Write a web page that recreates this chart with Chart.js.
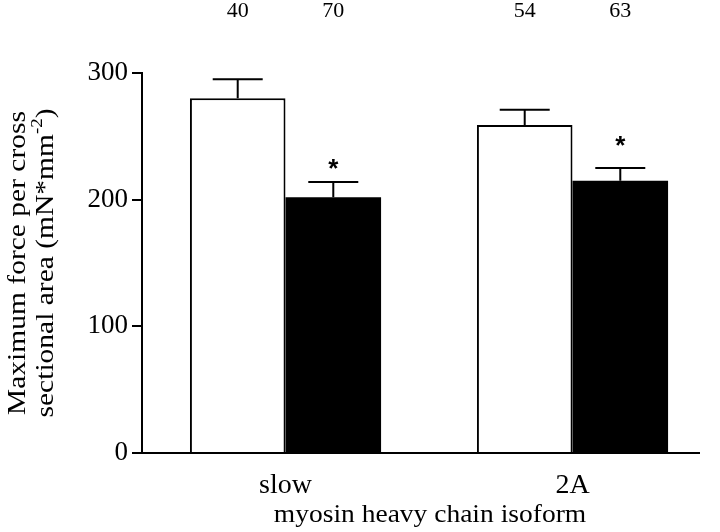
<!DOCTYPE html>
<html>
<head>
<meta charset="utf-8">
<script src="https://cdn.jsdelivr.net/npm/chart.js@4.4.1/dist/chart.umd.min.js"></script>
<style>
  html, body { margin: 0; padding: 0; background: #fff; }
  #wrap { width: 720px; height: 532px; position: relative; }
</style>
</head>
<body>
<div id="wrap"><canvas id="forceChart"></canvas></div>
<script>
// data
const categories = ['slow', '2A'];
const controlMeans = [280, 259];
const controlSem = [15, 12];
const treatedMeans = [202, 215];
const treatedSem = [12, 10];
const controlN = [40, 54];
const treatedN = [70, 63];
const treatedSig = ['*', '*'];
const yTicks = [0, 100, 200, 300];

const FONT = "'Liberation Serif', 'Times New Roman', serif";

// error bars, n labels, asterisks, axis titles
const extrasPlugin = {
  id: 'extras',
  afterDatasetsDraw(chart) {
    const ctx = chart.ctx;
    const y = chart.scales.y;
    const area = chart.chartArea;
    const sems = [controlSem, treatedSem];
    const ns = [controlN, treatedN];

    ctx.save();
    ctx.strokeStyle = '#000';
    ctx.lineWidth = 2;

    // x axis line (stops short of the right edge like the original)
    ctx.beginPath();
    ctx.moveTo(area.left - 1, area.bottom);
    ctx.lineTo(area.left + 558, area.bottom);
    ctx.stroke();

    chart.data.datasets.forEach((ds, di) => {
      const meta = chart.getDatasetMeta(di);
      meta.data.forEach((bar, i) => {
        const top = y.getPixelForValue(ds.data[i]);
        const cap = y.getPixelForValue(ds.data[i] + sems[di][i]);
        ctx.beginPath();
        ctx.moveTo(bar.x, top);
        ctx.lineTo(bar.x, cap);
        ctx.moveTo(bar.x - 25, cap);
        ctx.lineTo(bar.x + 25, cap);
        ctx.stroke();

        // n above the plot
        ctx.fillStyle = '#000';
        ctx.font = '22px ' + FONT;
        ctx.textAlign = 'center';
        ctx.textBaseline = 'middle';
        ctx.fillText(String(ns[di][i]), bar.x, 11);

        if (di === 1 && treatedSig[i]) {
          ctx.font = 'bold 26px "Liberation Sans", Arial, sans-serif';
          ctx.fillText(treatedSig[i], bar.x, cap - (i === 0 ? 12 : 21));
        }
      });
    });

    // y axis title, two lines with superscript, stretched along its length
    const cy = (area.top + area.bottom) / 2;
    ctx.save();
    ctx.translate(0, cy);
    ctx.rotate(-Math.PI / 2);
    ctx.scale(1.18, 1);
    ctx.fillStyle = '#000';
    ctx.textBaseline = 'alphabetic';
    ctx.textAlign = 'center';
    ctx.font = '25px ' + FONT;
    ctx.fillText('Maximum force per cross', 0, 25);

    const main = 'sectional area (mN*mm';
    const sup = '-2';
    const close = ')';
    ctx.font = '25px ' + FONT;
    const wMain = ctx.measureText(main).width;
    const wClose = ctx.measureText(close).width;
    ctx.font = '16px ' + FONT;
    const wSup = ctx.measureText(sup).width;
    const x0 = -(wMain + wSup + wClose) / 2;
    ctx.textAlign = 'left';
    ctx.font = '25px ' + FONT;
    ctx.fillText(main, x0, 53);
    ctx.font = '16px ' + FONT;
    ctx.fillText(sup, x0 + wMain, 42);
    ctx.font = '25px ' + FONT;
    ctx.fillText(close, x0 + wMain + wSup, 53);
    ctx.restore();

    // x axis title
    ctx.save();
    ctx.translate(430, 522);
    ctx.scale(1.1, 1);
    ctx.font = '25px ' + FONT;
    ctx.fillStyle = '#000';
    ctx.textAlign = 'center';
    ctx.textBaseline = 'alphabetic';
    ctx.fillText('myosin heavy chain isoform', 0, 0);
    ctx.restore();

    ctx.restore();
  }
};

new Chart(document.getElementById('forceChart'), {
  type: 'bar',
  data: {
    labels: categories,
    datasets: [{
      label: 'control',
      data: controlMeans,
      backgroundColor: '#fff',
      borderColor: '#000',
      borderWidth: 2,
      borderSkipped: 'bottom'
    }, {
      label: 'treated',
      data: treatedMeans,
      backgroundColor: '#000',
      borderColor: '#000',
      borderWidth: 0
    }]
  },
  options: {
    responsive: true,
    maintainAspectRatio: false,
    animation: false,
    devicePixelRatio: 1,
    layout: { padding: { top: 73, right: 4, left: 0, bottom: 0 } },
    datasets: { bar: { categoryPercentage: 0.666, barPercentage: 1.0 } },
    plugins: {
      legend: { display: false },
      tooltip: { enabled: false }
    },
    scales: {
      x: {
        grid: { display: false },
        border: { display: false },
        ticks: { color: '#000', font: { family: FONT, size: 28 }, padding: 8 },
        afterFit: s => { s.height = 79; }
      },
      y: {
        min: 0,
        max: 300,
        afterBuildTicks: s => { s.ticks = yTicks.map(v => ({ value: v })); },
        grid: { drawOnChartArea: false, drawTicks: true, tickLength: 10, color: '#000', lineWidth: 2 },
        border: { color: '#000', width: 2 },
        ticks: { color: '#000', font: { family: FONT, size: 27 }, padding: 4 },
        afterFit: s => { s.width = 142; }
      }
    }
  },
  plugins: [extrasPlugin]
});
</script>
</body>
</html>
